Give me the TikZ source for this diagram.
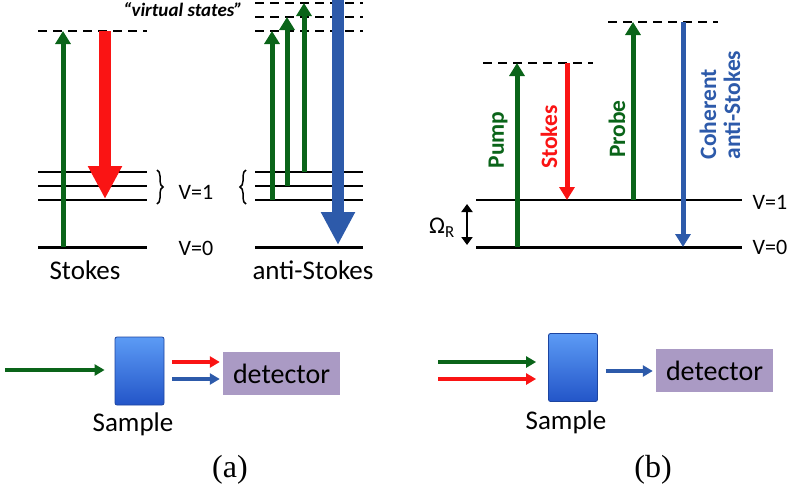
\documentclass[tikz,border=0pt]{standalone}
\usepackage{fontspec}
\setmainfont{Carlito}
\newfontfamily\timesf{Liberation Serif}
\usetikzlibrary{arrows.meta,decorations.pathreplacing}
\definecolor{dgreen}{RGB}{10,100,25}
\definecolor{bred}{RGB}{250,20,20}
\definecolor{bblue}{RGB}{45,90,170}
\definecolor{purp}{RGB}{170,154,196}
\definecolor{smtop}{RGB}{92,155,245}
\definecolor{smbot}{RGB}{35,85,200}
\begin{document}
\begin{tikzpicture}[x=1pt,y=-1pt,
  lvl/.style={line width=2pt},
  lvlzero/.style={line width=3pt},
  virt/.style={line width=2pt,dash pattern=on 9pt off 6pt},
  thinarr/.style={line width=5pt,-{Triangle[length=13pt,width=15pt]}},
  bigarr/.style={line width=12pt,-{Triangle[length=33pt,width=32pt]}},
  beam/.style={line width=3.2pt,-{Triangle[length=10pt,width=11pt]}},
  vlab/.style={font=\fontsize{22}{24}\selectfont},
  biglab/.style={font=\fontsize{27}{30}\selectfont},
  rotlab/.style={rotate=90,font=\fontsize{23.5}{24}\selectfont\bfseries},
  sample/.style={draw=smbot!80!black,line width=0.8pt,rounded corners=2pt,top color=smtop,bottom color=smbot,minimum width=49pt,minimum height=68pt,inner sep=0pt},
  detector/.style={fill=purp,minimum width=117pt,minimum height=43pt,inner sep=0pt,font=\fontsize{28}{30}\selectfont},
  brc/.style={line width=1.5pt,decorate,decoration={brace,amplitude=6pt}},
  panel/.style={font=\fontsize{32}{34}\selectfont\timesf}
]
\useasboundingbox (0,0) rectangle (798,490);

% ===== Panel (a) Stokes =====
\draw[virt] (38,31) -- (147,31);
\foreach \y in {172,186,200} \draw[lvl] (38,\y) -- (147,\y);
\draw[lvlzero] (38,247) -- (147,247);
\coordinate (sg0) at (63,247); \coordinate (sg1) at (63,31);
\draw[thinarr,dgreen] (sg0) -- (sg1);
\coordinate (sr0) at (105,31); \coordinate (sr1) at (105,199);
\draw[bigarr,bred] (sr0) -- (sr1);
\draw[brc] (157,170) -- (157,204);
\node[vlab] (v1a) at (196,192) {V=1};
\node[vlab] (v0a) at (196,248) {V=0};
\node[biglab] (stk) at (85,270) {Stokes};

% ===== Panel (a) anti-Stokes =====
\foreach \y in {3,17,31} \draw[virt] (255,\y) -- (363,\y);
\foreach \y in {172,186,200} \draw[lvl] (255,\y) -- (363,\y);
\draw[lvlzero] (255,247) -- (363,247);
\draw[thinarr,dgreen] (272,200) -- (272,31);
\draw[thinarr,dgreen] (287,186) -- (287,17);
\draw[thinarr,dgreen] (304,172) -- (304,3);
\draw[bigarr,bblue] (338,0) -- (338,245);
\draw[brc] (246,204) -- (246,170);
\node[font=\fontsize{19}{22}\selectfont\bfseries\itshape] (vs) at (183,10) {\char"201C virtual states\char"201D};
\node[biglab] (astk) at (313,270) {anti-Stokes};

% ===== Panel (b) CARS =====
\draw[virt] (483,63) -- (593,63);
\draw[virt] (608,22) -- (718,22);
\draw[lvl] (476,200) -- (742,200);
\draw[lvlzero] (476,247) -- (742,247);
\draw[thinarr,dgreen] (517,247) -- (517,63);
\draw[thinarr,bred] (567,63) -- (567,200);
\draw[thinarr,dgreen] (633,200) -- (633,22);
\draw[thinarr,bblue] (683,22) -- (683,247);
\node[rotlab,text=dgreen] (pump) at (498,140) {Pump};
\node[rotlab,text=bred] (stb) at (549,137) {Stokes};
\node[rotlab,text=dgreen] (probe) at (617,129) {Probe};
\node[rotlab,text=bblue,align=left] (cas) at (720,105) {Coherent\\anti-Stokes};
\draw[line width=2.5pt,{Triangle[length=8pt,width=11pt]}-{Triangle[length=8pt,width=11pt]}] (467,204) -- (467,245);
\node[font=\fontsize{24}{26}\selectfont] (om) at (442,228) {Ω\textsubscript{R}};
\node[vlab] (v1b) at (770,202) {V=1};
\node[vlab] (v0b) at (770,247) {V=0};

% ===== Bottom (a) =====
\node[sample] (sa) at (139.5,371) {};
\node[biglab] (sal) at (133,424) {Sample};
\node[detector] (da) at (281.5,373.5) {detector};
\coordinate (ina) at (5,370);
\draw[beam,dgreen] (ina) -- ([xshift=-10pt]sa.west |- ina);
\draw[beam,bred] ([xshift=8pt]sa.east |- 0,362) -- ([xshift=-3pt]da.west |- 0,362);
\draw[beam,bblue] ([xshift=8pt]sa.east |- 0,379) -- ([xshift=-3pt]da.west |- 0,379);
\node[panel] (pa) at (230,470) {(a)};

% ===== Bottom (b) =====
\node[sample] (sb) at (573,367.5) {};
\node[biglab] (sbl) at (566,422) {Sample};
\node[detector] (db) at (714.5,370.5) {detector};
\coordinate (inb1) at (438,362);
\coordinate (inb2) at (438,379);
\draw[beam,dgreen] (inb1) -- ([xshift=-12pt]sb.west |- inb1);
\draw[beam,bred] (inb2) -- ([xshift=-12pt]sb.west |- inb2);
\draw[beam,bblue] ([xshift=8pt]sb.east |- 0,371) -- ([xshift=-3pt]db.west |- 0,371);
\node[panel] (pb) at (653,470) {(b)};
\end{tikzpicture}
\end{document}
